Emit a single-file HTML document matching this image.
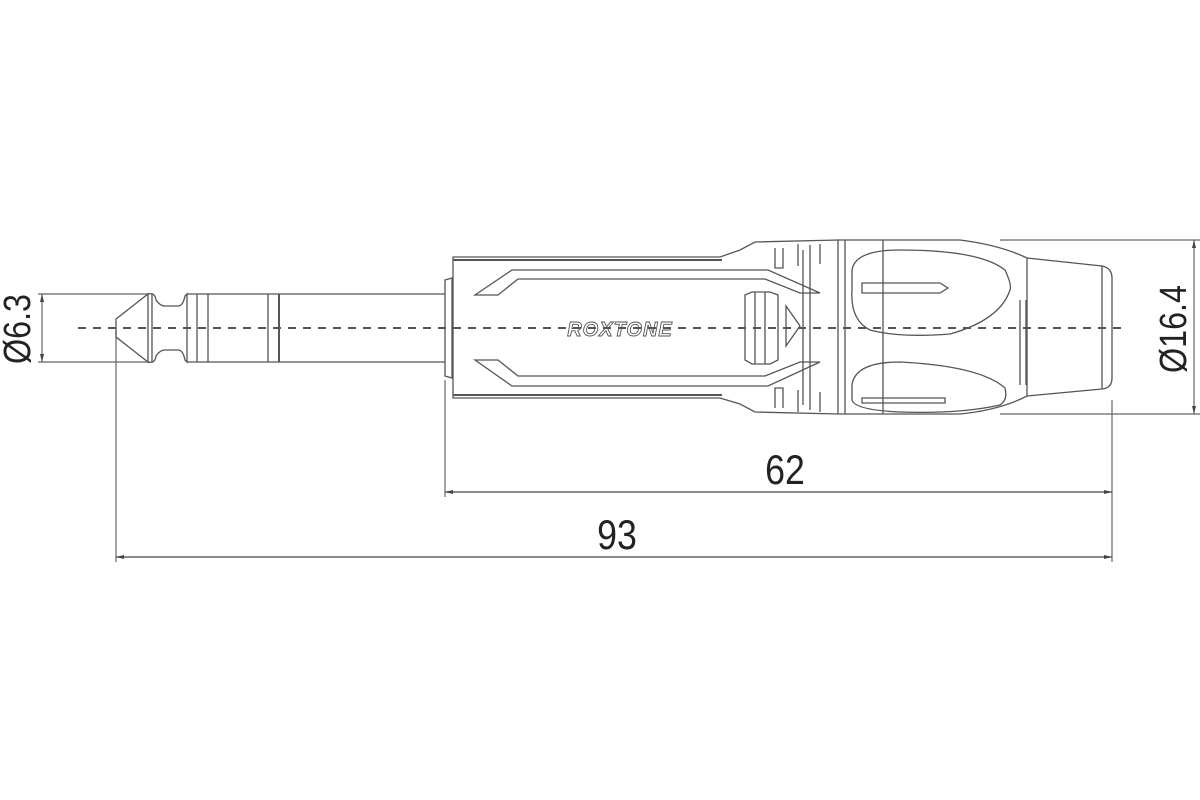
<!DOCTYPE html>
<html><head><meta charset="utf-8"><style>html,body{margin:0;padding:0;background:#fff}svg{display:block}</style></head>
<body>
<svg width="1200" height="800" viewBox="0 0 1200 800" xmlns="http://www.w3.org/2000/svg" font-family="Liberation Sans, sans-serif">
<g fill="none" stroke="#666" stroke-width="1.2">
<line x1="38" y1="294" x2="148" y2="294"/><line x1="38" y1="362" x2="148" y2="362"/>
<line x1="42" y1="294" x2="42" y2="362"/>
<line x1="1000" y1="240" x2="1200" y2="240"/><line x1="1000" y1="414" x2="1200" y2="414"/>
<line x1="1194" y1="240" x2="1194" y2="414"/>
<line x1="116" y1="330" x2="116" y2="562"/>
<line x1="445" y1="380" x2="445" y2="497"/>
<line x1="1112" y1="400" x2="1112" y2="562"/>
<line x1="445" y1="492" x2="1112" y2="492" stroke-width="1.6"/>
<line x1="116" y1="557" x2="1112" y2="557" stroke-width="1.6"/>
</g>
<g fill="#444">
<path d="M445 492l8-2v4zM1112 492l-8-2v4zM116 557l8-2v4zM1112 557l-8-2v4zM42 294l-2 8h4zM42 362l-2-8h4zM1194 240l-2 8h4zM1194 414l-2-8h4z"/>
</g>
<g fill="none" stroke="#555" stroke-width="1.3">
<path d="M116 319 L148 294 L148 362 L116 337 Z"/>
<path d="M148 294 Q155 292 156 300 Q160 306 165 306 L178 306 Q183 306 185 296 L187 294 L187 362 L185 360 Q183 350 178 350 L165 350 Q160 350 156 356 Q155 364 148 362"/>
<line x1="152" y1="294" x2="152" y2="362"/>
<line x1="187" y1="294" x2="445" y2="294"/><line x1="187" y1="362" x2="445" y2="362"/>
<line x1="197" y1="294" x2="197" y2="362"/><line x1="208" y1="294" x2="208" y2="362"/>
<line x1="268" y1="294" x2="268" y2="362"/><line x1="279" y1="294" x2="279" y2="362" stroke-width="2"/>
<path d="M445 280 L452 278 L452 378 L445 376 Z"/>
<path d="M453 257 L720 257 L740 250 L755 242 L838 240 L838 414 L755 412 L740 404 L720 398 L453 398 Z"/>
<line x1="453" y1="260" x2="722" y2="260" stroke-width="2"/><line x1="453" y1="395" x2="722" y2="395" stroke-width="2"/>
<path d="M475 295 L512 270 L768 270 L820 293 L800 293 L765 279 L518 279 L498 295 Z"/>
<path d="M475 360 L512 386 L768 386 L820 362 L800 362 L765 376 L518 376 L498 360 Z"/>
<path d="M745 295 L752 292 L770 292 L778 295 L778 360 L770 364 L752 364 L745 360 Z"/>
<line x1="755" y1="292" x2="755" y2="364"/><line x1="765" y1="292" x2="765" y2="364"/>
<path d="M786 306 L800 326 L786 346 Z"/>
<line x1="803" y1="250" x2="803" y2="405"/><line x1="810" y1="245" x2="810" y2="410"/>
<path d="M775 248v20h8v-20M798 244v22M820 244v20M775 408v-20h8v20M798 412v-22M820 412v-20"/>
<line x1="845" y1="240" x2="845" y2="414"/>
<path d="M838 240 L960 240 Q1000 245 1027 258 L1027 396 Q1000 410 960 414 L838 414"/>
<path d="M852 270 Q855 250 900 250 Q980 250 1005 270 Q1012 285 1010 290 Q1000 320 950 334 Q900 338 870 330 Q850 320 852 290 Z"/>
<path d="M852 385 Q855 362 900 362 Q980 366 1005 388 Q1008 400 1000 405 Q960 414 900 412 Q855 410 852 400 Z"/>
<path d="M862 283 L940 283 L948 288 L940 293 L862 293 Z"/>
<path d="M862 398 L945 398 L945 403 L862 403 Z"/>
<line x1="883" y1="240" x2="883" y2="414"/>
<line x1="1020" y1="300" x2="1020" y2="385"/><line x1="1026" y1="300" x2="1026" y2="385"/>
<path d="M1027 258 L1102 266 Q1112 268 1112 278 L1112 378 Q1112 388 1102 389 L1027 396"/>
<line x1="1102" y1="266" x2="1102" y2="389"/>
</g>
<text x="620" y="336" font-size="20" font-style="italic" font-weight="bold" fill="none" stroke="#555" stroke-width="0.9" text-anchor="middle" letter-spacing="1">ROXTONE</text>
<line x1="78" y1="328" x2="1125" y2="328" stroke="#555" stroke-width="2" stroke-dasharray="8,7"/>
<g fill="#222" font-size="42">
<text transform="translate(785,484) scale(0.85,1)" text-anchor="middle">62</text>
<text transform="translate(617,549) scale(0.85,1)" text-anchor="middle">93</text>
<text transform="translate(30,329) rotate(-90) scale(0.85,1)" text-anchor="middle" font-size="38">Ø6.3</text>
<text transform="translate(1186,329) rotate(-90) scale(0.85,1)" text-anchor="middle" font-size="38">Ø16.4</text>
</g>
</svg>
</body></html>
